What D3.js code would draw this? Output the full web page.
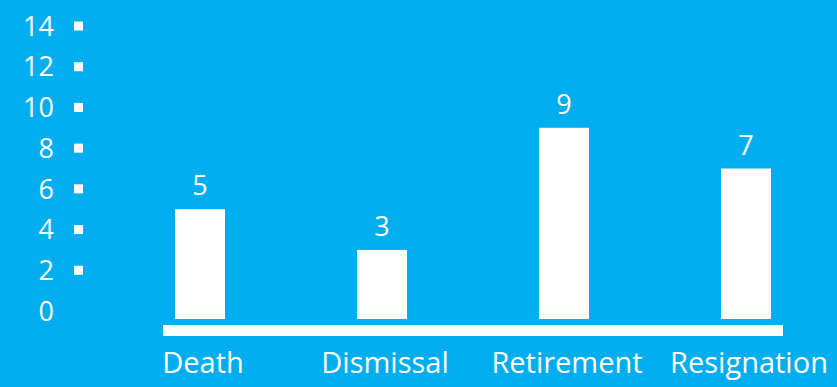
<!DOCTYPE html>
<html>
<head>
<meta charset="utf-8">
<script src="https://cdn.jsdelivr.net/npm/d3@7"></script>
<style>
  html, body { margin: 0; padding: 0; background: #00AEEF; }
  svg { display: block; }
  text { font-family: "Open Sans", sans-serif; fill: #fff; }
</style>
</head>
<body>
<div id="chart"></div>
<script>
var categories = ["Death", "Dismissal", "Retirement", "Resignation"];
var values = [5, 3, 9, 7];
var yTicks = [0, 2, 4, 6, 8, 10, 12, 14];

var svgWidth = 837;
var svgHeight = 387;

var svg = d3.select("#chart")
    .append("svg")
    .attr("width", svgWidth)
    .attr("height", svgHeight);

svg.append("rect")
    .attr("width", svgWidth)
    .attr("height", svgHeight)
    .attr("fill", "#00AEEF");

// scales
var xScale = d3.scalePoint()
    .domain(categories)
    .range([200, 746]);

var yScale = d3.scaleLinear()
    .domain([0, 14])
    .range([311, 26]);

var barWidth = 50;
var barFoot = 8; // bars run a bit below zero, down to the base strip

// y axis labels with square markers
var yAxis = svg.append("g");

yAxis.selectAll("text")
    .data(yTicks)
    .enter()
    .append("text")
    .attr("x", 54)
    .attr("y", d => yScale(d))
    .attr("dy", "0.36em")
    .attr("text-anchor", "end")
    .style("font-size", "27px")
    .text(d => d);

yAxis.selectAll("rect")
    .data(yTicks.filter(d => d > 0))
    .enter()
    .append("rect")
    .attr("x", 74)
    .attr("y", d => yScale(d) - 4.5)
    .attr("width", 9)
    .attr("height", 9)
    .attr("fill", "#fff");

// bars
svg.selectAll("rect.bar")
    .data(values)
    .enter()
    .append("rect")
    .classed("bar", true)
    .attr("x", (d, i) => xScale(categories[i]) - barWidth / 2)
    .attr("y", d => yScale(d))
    .attr("width", barWidth)
    .attr("height", d => yScale(0) + barFoot - yScale(d))
    .attr("fill", "#fff");

// value labels
svg.selectAll("text.value")
    .data(values)
    .enter()
    .append("text")
    .classed("value", true)
    .attr("x", (d, i) => xScale(categories[i]))
    .attr("y", d => yScale(d) - 14)
    .attr("text-anchor", "middle")
    .style("font-size", "27px")
    .text(d => d);

// base strip
var x0 = xScale(categories[0]) - 37;
var x1 = xScale(categories[categories.length - 1]) + 37;
svg.append("rect")
    .attr("x", x0)
    .attr("y", yScale(0) + 14)
    .attr("width", x1 - x0)
    .attr("height", 11)
    .attr("fill", "#fff");

// category labels
svg.selectAll("text.cat")
    .data(categories)
    .enter()
    .append("text")
    .classed("cat", true)
    .attr("x", d => xScale(d) + 3)
    .attr("y", 373)
    .attr("text-anchor", "middle")
    .style("font-size", "29px")
    .text(d => d);
</script>
</body>
</html>
